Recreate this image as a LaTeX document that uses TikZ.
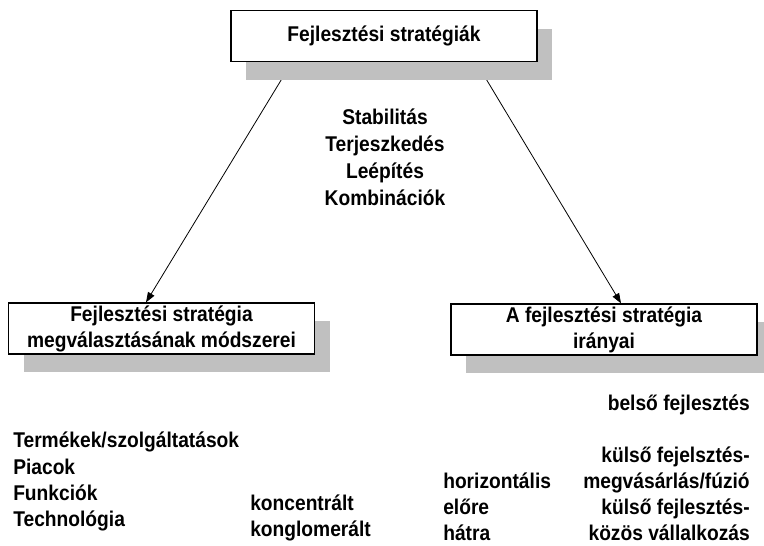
\documentclass[tikz,border=0pt]{standalone}
\usepackage{fontspec}
\setmainfont{Liberation Sans}[FakeStretch=0.9]
\usetikzlibrary{shadows,backgrounds,arrows.meta}
\definecolor{shadowgray}{RGB}{192,192,192}

\begin{document}
\begin{tikzpicture}[
  x=0.75pt, y=-0.75pt,
  every node/.style={inner sep=0pt, font=\fontsize{16}{19.5}\selectfont\bfseries},
  % boxes with the grey offset shadow
  box/.style={draw, line width=1pt, fill=white, align=center,
    minimum width=229.5pt, minimum height=38.25pt,
    drop shadow={shadow xshift=11.25pt, shadow yshift=-13.5pt,
      fill=shadowgray, opacity=1}},
  link/.style={draw, line width=0.6pt, -{Triangle[length=7.5pt,width=5.5pt]}},
  % plain list entries
  mid/.style={text height=11.5pt, text depth=0pt},
  item/.style={mid, anchor=west},
  ritem/.style={mid, anchor=east}]

  \useasboundingbox (0,0) rectangle (764,546);

  % boxes
  \node[box] (top)   at (384,36)    {Fejlesztési stratégiák};
  \node[box] (left)  at (161.5,328.5) {Fejlesztési stratégia\\megválasztásának módszerei};
  \node[box] (right) at (604,329.5) {A fejlesztési stratégia\\irányai};

  % arrows, kept under the shadows
  \begin{scope}[on background layer]
    \draw[link] ([xshift=-69pt]top.south) -- ([xshift=-11.6pt]left.north);
    \draw[link] ([xshift=69pt]top.south)  -- ([xshift=12.75pt]right.north);
  \end{scope}

  % strategy kinds
  \foreach \y/\t [count=\i] in {117/Stabilitás, 144/Terjeszkedés,
      171/Leépítés, 198/Kombinációk}
    \node[mid] (kind\i) at (385,\y) {\t};

  % methods
  \foreach \y/\t [count=\i] in {440/{Termékek/szolgáltatások}, 467/Piacok,
      493/Funkciók, 519/Technológia}
    \node[item] (meth\i) at (13,\y) {\t};
  \node[item] (konc) at (250,503) {koncentrált};
  \node[item] (kong) at (250,529) {konglomerált};

  % directions
  \foreach \y/\t [count=\i] in {481/horizontális, 507/előre, 533/hátra}
    \node[item] (dir\i) at (443,\y) {\t};
  \node[ritem] (bel) at (750,403) {belső fejlesztés};
  \foreach \y/\t [count=\i] in {455/külső fejelsztés-, 481/{megvásárlás/fúzió},
      507/külső fejlesztés-, 533/közös vállalkozás}
    \node[ritem] (kul\i) at (750,\y) {\t};
\end{tikzpicture}
\end{document}
